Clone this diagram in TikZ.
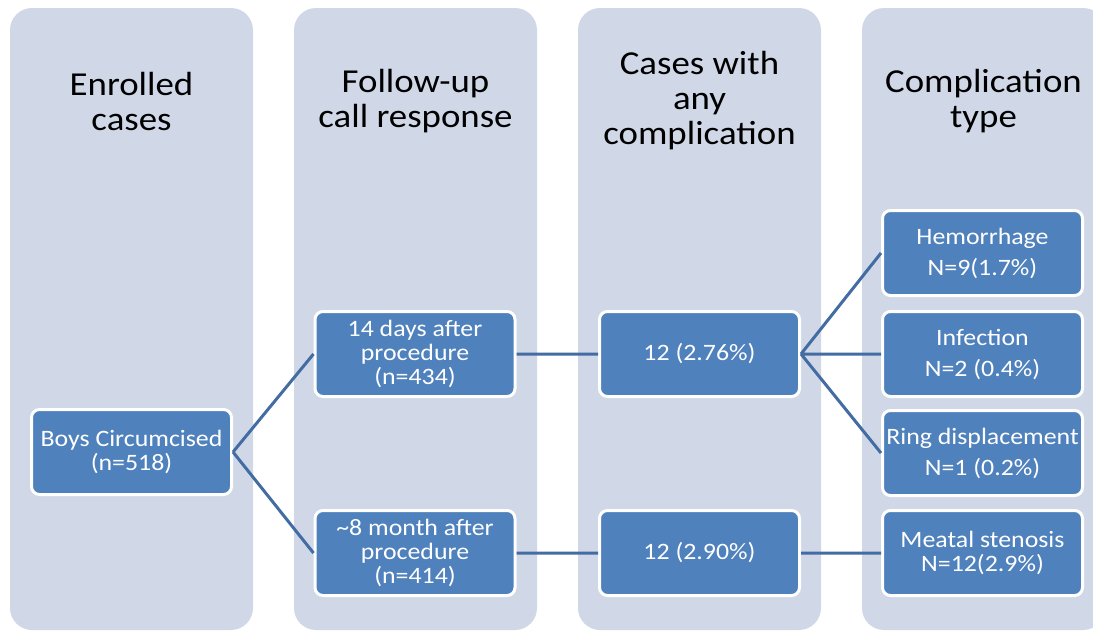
\documentclass[tikz,border=0pt]{standalone}
\usepackage{fontspec}
\setmainfont{Carlito}[FakeStretch=1.1]
\usetikzlibrary{positioning}
\definecolor{panelgrey}{RGB}{208, 216, 232}
\definecolor{boxblue}{RGB}{79, 129, 189}
\definecolor{linkblue}{RGB}{66, 108, 162}
\tikzset{
  panel/.style={
    fill=panelgrey,
    rounded corners=22pt,
    minimum width=243pt,
    minimum height=622pt,
    inner sep=0pt
  },
  heading/.style={
    align=center,
    text=black,
    font=\fontsize{33.5}{35}\selectfont
  },
  box/.style={
    draw=white,
    line width=3pt,
    fill=boxblue,
    rounded corners=8pt,
    minimum width=200pt,
    minimum height=85pt,
    inner sep=1pt,
    align=center,
    text=white,
    font=\fontsize{23.5}{24}\selectfont
  },
  link/.style={
    draw=linkblue,
    line width=3pt
  }
}

\begin{document}
\begin{tikzpicture}[x=1pt, y=-1pt]
  \clip (0, 0) rectangle (1093, 630);
  \fill[white] (0, 0) rectangle (1093, 630);

  % columns
  \node[panel] (colA) at (131.5, 319) {};
  \node[panel] (colB) at (415.5, 319) {};
  \node[panel] (colC) at (699.5, 319) {};
  \node[panel] (colD) at (983.5, 319) {};

  \node[heading] (headA) at (131.5, 101) {Enrolled\\cases};
  \node[heading] (headB) at (415.5, 101) {Follow-up\\call response};
  \node[heading] (headC) at (699.5, 101) {Cases with\\any\\complication};
  \node[heading] (headD) at (983.5, 101) {Complication\\type};

  % boxes
  \node[box] (boys) at (131.5, 452) {Boys Circumcised\\(n=518)};
  \node[box] (d14) at (415, 354) {14 days after\\procedure\\(n=434)};
  \node[box] (m8) at (415, 553) {\textasciitilde8 month after\\procedure\\(n=414)};
  \node[box] (c276) at (699.5, 354) {12 (2.76\%)};
  \node[box] (c290) at (699.5, 553) {12 (2.90\%)};
  \node[box] (hem) at (982.5, 253) {Hemorrhage\\[7pt]N=9(1.7\%)};
  \node[box] (inf) at (982.5, 354) {Infection\\[7pt]N=2 (0.4\%)};
  \node[box] (ring) at (982.5, 453) {Ring displacement\\[7pt]N=1 (0.2\%)};
  \node[box] (meat) at (982.5, 553) {Meatal stenosis\\N=12(2.9\%)};

  \path[link] (boys.east) -- (d14.west)
              (boys.east) -- (m8.west)
              (d14.east) -- (c276.west)
              (m8.east) -- (c290.west)
              (c276.east) -- (hem.west)
              (c276.east) -- (inf.west)
              (c276.east) -- (ring.west)
              (c290.east) -- (meat.west);
\end{tikzpicture}
\end{document}
